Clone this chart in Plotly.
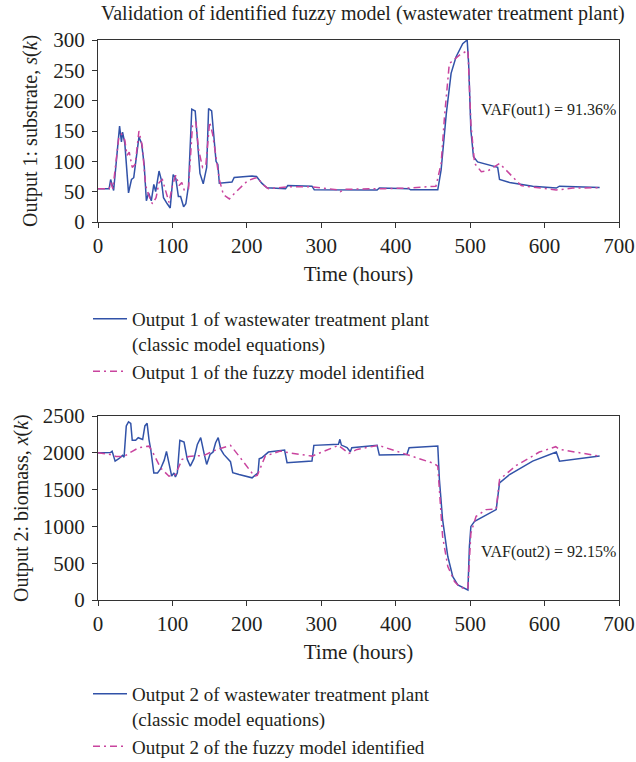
import plotly.graph_objects as go

# ---------------- data ----------------
# Output 1 (substrate) - classic model
t_s_plant = [0, 15, 17, 21, 29, 31.5, 33, 36, 41, 45, 48, 55, 58.5, 62, 65, 68, 71.6, 75, 77.5, 82,
             85, 88, 93, 97, 101, 104.5, 108, 111, 115, 118, 121.6, 126, 130.6, 134, 137, 141.4, 146,
             148.6, 152.7, 155.4, 158.6, 161, 163, 180, 183, 207, 213, 220, 227, 252, 255, 287.5,
             290.6, 375, 378, 417.6, 420, 456.5, 461, 468, 474.4, 481, 490, 496, 498, 501, 504.5,
             510, 537, 539.5, 553, 584, 615.7, 620, 674]
s_plant = [55, 55, 70, 52, 158, 132, 148, 130, 48, 70, 73, 140, 130, 95, 35, 48, 35, 62, 50, 84,
           70, 40, 30, 23, 78, 72, 42, 42, 25, 30, 60, 186, 183, 130, 80, 63, 90,
           187, 183, 145, 100, 95, 64, 66, 73.5, 76, 75, 64, 56.5, 55, 60, 59,
           53, 52.7, 56, 55, 53, 53, 86, 179, 245, 272, 294, 300, 261, 151, 107.5,
           99, 90, 70, 65, 59, 56, 59, 57]

# Output 1 (substrate) - fuzzy model
t_s_fuzzy = [0, 15, 17, 20, 28, 31.5, 36, 39, 42, 46, 50, 55, 59.5, 64, 68, 73, 78, 82, 86.5, 91,
             95.5, 100, 104.5, 109, 112.6, 116, 121.6, 127, 131.5, 135, 140.5, 145, 150, 154, 158.6,
             163, 168.5, 176.5, 185.6, 201, 210, 214, 222, 229, 256, 287.5, 323, 325.6, 332, 364,
             386, 417.6, 454, 461, 465.5, 472, 485.6, 497, 499, 501, 506, 515, 524, 539.5, 557,
             568.6, 615.7, 638, 674]
s_fuzzy = [55, 55, 65, 55, 140, 145, 135, 110, 115, 90, 95, 150, 125, 60, 45, 30, 40, 65, 70, 50,
           32, 60, 77, 60, 65, 52, 55, 160, 165, 120, 90, 95, 165, 145, 110,
           70, 45, 38, 50, 68, 72, 73, 61, 55, 58, 58, 53, 50, 54, 54,
           55, 56, 59, 96, 173, 261, 275, 283, 234, 162, 96.5, 83, 84.5, 96.5, 74.6,
           60, 52.7, 56, 56.5]

# Output 2 (biomass) - classic model
t_x_plant = [0, 17, 19, 23, 28, 33, 35, 38, 41, 44, 46, 50.6, 54, 60, 63, 66, 68.5, 71, 75, 80,
             84, 89, 92, 95.4, 99, 102, 104, 106.6, 110, 115.6, 120, 124, 129, 133.5, 138, 142.5,
             146, 150.5, 154.6, 158, 161.5, 165, 169, 178, 181, 189.5, 207, 215, 216.6, 220, 229,
             250.7, 254, 287.5, 290, 323, 325, 327, 334.6, 339, 341, 375, 378, 415, 418, 456.5,
             458.7, 463, 470, 476.7, 483.4, 497, 499, 501, 506, 535, 539.5, 553, 584, 615.7, 620, 674]
x_plant = [2000, 2005, 2020, 1887, 1920, 1965, 1940, 2365, 2420, 2400, 2170, 2170, 2205, 2180, 2365, 2400, 2180, 2036, 1727, 1727,
           1780, 1900, 2020, 1840, 1682, 1727, 1673, 1727, 2170, 2146, 1910, 1818, 1920, 2114, 2205, 1992,
           1842, 1978, 2010, 2137, 2205, 2046, 1978, 1880, 1730, 1705, 1660, 1728, 1919, 1933, 2010,
           2037, 1865, 1887, 2101, 2115, 2183, 2105, 2070, 2015, 2070, 2101, 1969, 1978, 2070, 2092,
           1637, 1091, 591, 318, 205, 136, 728, 1000, 1069, 1228, 1592, 1705, 1887, 2010, 1887, 1955]

# Output 2 (biomass) - fuzzy model
t_x_fuzzy = [0, 15, 24, 35, 46, 55, 68.5, 73, 84, 95.4, 104, 113, 122, 142.5, 160, 178, 189.5, 203,
             210, 214, 224.7, 245, 256, 287.5, 310, 323, 337, 348, 377, 415, 451.5, 456.5, 458.7,
             463, 470, 479, 485.6, 494.6, 497, 499, 501, 508, 521.5, 535, 539.5, 562, 593, 615, 620, 674]
x_fuzzy = [2000, 1980, 1950, 1950, 2020, 2070, 2090, 2020, 1795, 1682, 1705, 1910, 1950, 1965, 2046, 2101, 1955, 1773,
           1683, 1692, 1955, 2024, 2001, 1955, 2046, 2101, 1992, 2046, 2101, 1978, 1855, 1818, 1500,
           864, 455, 250, 182, 146, 160, 500, 910, 1137, 1228, 1237, 1637, 1828, 2010, 2083, 2046, 1955]

x_ticks = [0, 100, 200, 300, 400, 500, 600, 700]
s_ticks = [0, 50, 100, 150, 200, 250, 300]
x2_ticks = [0, 500, 1000, 1500, 2000, 2500]

title_text = "Validation of identified fuzzy model (wastewater treatment plant)"
y1_title = "Output 1: substrate, <i>s</i>(<i>k</i>)"
y2_title = "Output 2: biomass, <i>x</i>(<i>k</i>)"
vaf1_text = "VAF(out1) = 91.36%"
vaf2_text = "VAF(out2) = 92.15%"

# ---------------- style ----------------
W, H = 636, 762
L, R, T, B = 98, 619, 40, 600          # plot-area pixel box
FONT = "Liberation Serif"
TXT = "#231f20"
BLUE = "#3152a8"
PINK = "#c9449e"
DASH = "7px,4px,2px,4px"
AX = "#333333"

def dom_y(top_px, bot_px):
    h = B - T
    return [(B - bot_px) / h, (B - top_px) / h]

def pap_x(p):
    return (p - L) / (R - L)

def pap_y(p):
    return (B - p) / (B - T)

fig = go.Figure()

fig.add_trace(go.Scatter(x=t_s_plant, y=s_plant, mode="lines",
                         line=dict(color=BLUE, width=1.5),
                         name="Output 1 of wastewater treatment plant<br>(classic model equations)",
                         xaxis="x", yaxis="y", legend="legend"))
fig.add_trace(go.Scatter(x=t_s_fuzzy, y=s_fuzzy, mode="lines",
                         line=dict(color=PINK, width=1.5, dash=DASH),
                         name="Output 1 of the fuzzy model identified",
                         xaxis="x", yaxis="y", legend="legend"))
fig.add_trace(go.Scatter(x=t_x_plant, y=x_plant, mode="lines",
                         line=dict(color=BLUE, width=1.5),
                         name="Output 2 of wastewater treatment plant<br>(classic model equations)",
                         xaxis="x2", yaxis="y2", legend="legend2"))
fig.add_trace(go.Scatter(x=t_x_fuzzy, y=x_fuzzy, mode="lines",
                         line=dict(color=PINK, width=1.5, dash=DASH),
                         name="Output 2 of the fuzzy model identified",
                         xaxis="x2", yaxis="y2", legend="legend2"))

axis_common = dict(showgrid=False, zeroline=False, showline=True, linecolor=AX, linewidth=1,
                   mirror=True, ticks="outside", ticklen=5, tickcolor=AX, tickwidth=1,
                   tickfont=dict(family=FONT, size=21, color=TXT))

xtitle = dict(text="Time (hours)", font=dict(family=FONT, size=21, color=TXT), standoff=9)
leg_common = dict(xref="container", yref="container", xanchor="left", yanchor="top", valign="top",
                  bgcolor="rgba(0,0,0,0)", font=dict(family=FONT, size=19, color=TXT),
                  tracegroupgap=0, itemwidth=34)

fig.update_layout(
    width=W, height=H,
    margin=dict(l=L, r=W - R, t=T, b=H - B, autoexpand=False),
    paper_bgcolor="white", plot_bgcolor="white",
    font=dict(family=FONT, color=TXT, size=20),
    xaxis=dict(axis_common, range=[0, 700], tickvals=x_ticks, anchor="y", title=xtitle),
    yaxis=dict(axis_common, domain=dom_y(40, 222), range=[0, 300], tickvals=s_ticks, anchor="x",
               ticklabelstandoff=3),
    xaxis2=dict(axis_common, range=[0, 700], tickvals=x_ticks, anchor="y2", title=xtitle),
    yaxis2=dict(axis_common, domain=dom_y(416, 600), range=[0, 2500], tickvals=x2_ticks, anchor="x2",
                ticklabelstandoff=3),
    legend=dict(leg_common, x=88 / W, y=1 - 300 / H),
    legend2=dict(leg_common, x=88 / W, y=1 - 675 / H),
    showlegend=True,
    annotations=[
        dict(text=title_text, x=pap_x(363), y=pap_y(14), xref="paper", yref="paper",
             xanchor="center", yanchor="middle", showarrow=False,
             font=dict(family=FONT, size=20, color=TXT)),
        dict(text=y1_title, x=pap_x(30), y=pap_y(131), xref="paper", yref="paper",
             xanchor="center", yanchor="middle", textangle=-90, showarrow=False,
             font=dict(family=FONT, size=20, color=TXT)),
        dict(text=y2_title, x=pap_x(21), y=pap_y(508), xref="paper", yref="paper",
             xanchor="center", yanchor="middle", textangle=-90, showarrow=False,
             font=dict(family=FONT, size=20, color=TXT)),
        dict(text=vaf1_text, x=512, y=184, xref="x", yref="y", xanchor="left", yanchor="middle",
             showarrow=False, font=dict(family=FONT, size=16, color=TXT)),
        dict(text=vaf2_text, x=512, y=652, xref="x2", yref="y2", xanchor="left", yanchor="middle",
             showarrow=False, font=dict(family=FONT, size=16, color=TXT)),
    ],
)

fig.write_html("out.html")
